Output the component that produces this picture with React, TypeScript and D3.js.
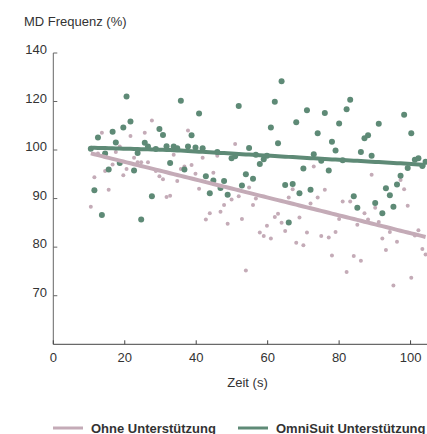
import React from 'react';
import * as d3 from 'd3';

const WIDTH = 427;
const HEIGHT = 434;

const COLOR_OHNE = '#c4abb7';
const COLOR_OMNI = '#5e8a76';
const TEXT = '#333';

// Zeitpunkte (s), gemeinsam für beide Serien
const times = [
  10.5, 11.5, 12.5, 13.6, 14.5, 15.5, 16.6, 17.5, 18.6, 19.6,
  20.5, 21.6, 22.6, 23.6, 24.6, 25.6, 26.5, 27.6, 28.7, 29.7,
  30.7, 31.7, 32.7, 33.7, 34.7, 35.7, 36.7, 37.7, 38.7, 39.8,
  40.8, 41.8, 42.7, 43.8, 44.8, 45.9, 46.8, 47.8, 48.8, 49.9,
  50.9, 51.9, 52.8, 53.9, 54.8, 55.9, 56.7, 57.8, 58.9, 59.8,
  60.9, 62.0, 62.9, 63.9, 64.9, 65.9, 67.0, 68.0, 68.9, 70.0,
  71.0, 72.0, 72.9, 74.0, 75.0, 76.0, 77.1, 78.0, 79.0, 80.0,
  81.0, 82.1, 83.1, 84.1, 85.1, 86.1, 87.1, 88.1, 89.1, 90.1,
  91.1, 92.1, 93.1, 94.2, 95.2, 96.2, 97.2, 98.2, 99.2, 100.2,
  101.2, 102.2, 103.3, 104.2,
];

// MD Frequenz (%) ohne Unterstützung
const ohneValues = [
  88.3, 94.4, 99.3, 107.1, 95.7, 91.8, 97.0, 99.6, 101.4, 94.8,
  96.1, 105.8, 98.4, 97.5, 97.5, 107.1, 97.5, 112.2, 95.7, 94.6,
  94.0, 90.3, 90.6, 99.0, 93.6, 96.1, 96.6, 108.0, 96.9, 95.1,
  92.0, 98.4, 85.7, 87.0, 95.3, 98.8, 87.3, 88.7, 84.8, 89.8,
  102.5, 90.5, 85.8, 75.2, 92.3, 88.7, 90.0, 83.0, 82.3, 84.4,
  81.8, 86.2, 86.9, 85.0, 83.3, 90.2, 91.9, 80.9, 86.1, 80.4,
  83.0, 89.0, 96.6, 90.2, 82.3, 91.8, 82.0, 78.3, 83.1, 85.8,
  89.4, 74.9, 89.4, 78.2, 84.6, 77.2, 87.0, 85.7, 94.9, 88.1,
  85.2, 81.8, 79.4, 83.1, 72.1, 81.1, 93.8, 91.9, 88.5, 73.7,
  82.4, 83.5, 79.6, 78.5,
];

// MD Frequenz (%) mit OmniSuit Unterstützung
const omniValues = [
  100.5, 91.7, 105.2, 86.6, 99.3, 96.0, 107.5, 103.1, 97.3, 109.3,
  122.1, 111.8, 95.8, 99.4, 85.7, 103.0, 101.4, 90.5, 100.4, 108.7,
  106.2, 101.5, 97.3, 101.4, 100.7, 120.3, 96.0, 101.4, 106.1, 101.0,
  115.1, 100.7, 94.6, 91.1, 93.7, 99.6, 92.2, 93.6, 90.8, 98.3,
  98.7, 118.1, 92.7, 95.0, 100.8, 94.1, 99.0, 97.1, 98.1, 98.8,
  109.3, 119.9, 102.8, 128.3, 92.8, 85.1, 93.0, 111.4, 91.1, 96.2,
  116.4, 91.8, 99.1, 106.9, 97.8, 115.3, 95.8, 103.4, 99.9, 110.9,
  97.9, 116.8, 120.7, 90.5, 88.1, 99.6, 104.8, 106.1, 98.8, 89.1,
  110.8, 87.0, 92.1, 90.7, 88.3, 92.9, 94.7, 114.5, 96.3, 106.9,
  98.0, 98.3, 96.7, 97.6,
];

// lineare Trends (Werte am Anfang und Ende)
const ohneTrend = [99.3, 82.1];
const omniTrend = [100.95, 96.95];

const xTicks = [0, 20, 40, 60, 80, 100];
const yTicks = [70, 80, 90, 100, 120, 140];

const legendItems = [
  { label: 'Ohne Unterstützung', color: COLOR_OHNE, x: 53 },
  { label: 'OmniSuit Unterstützung', color: COLOR_OMNI, x: 238 },
];

const x = d3.scaleLinear().domain([0, 104.6]).range([53.3, WIDTH]);
// oberhalb von 100 % gestauchte Achse
const y = d3.scaleLinear().domain([60, 100, 140]).range([344.3, 150, 53]);

const line = d3
  .line<[number, number]>()
  .x(d => x(d[0]))
  .y(d => y(d[1]));

const trendPath = (trend: number[]) => {
  const t0 = times[0];
  const t1 = times[times.length - 1];
  const pts = times.map(t => [t, trend[0] + ((trend[1] - trend[0]) * (t - t0)) / (t1 - t0)] as [number, number]);
  return line(pts) || '';
};

const font = '"Liberation Sans", Arial, Helvetica, sans-serif';

const App = () => {
  const x0 = x.range()[0];
  const yBottom = y(60);
  return (
    <div style={{ position: 'absolute', left: 0, top: 0 }}>
      <svg width={WIDTH} height={HEIGHT} style={{ display: 'block', fontFamily: font }}>
        <rect width={WIDTH} height={HEIGHT} fill="#fff" />
        <text x={24} y={21} fontSize={13} fill={TEXT} dominantBaseline="central">
          MD Frequenz (%)
        </text>

        {/* y-Achse */}
        <line x1={x0} x2={x0} y1={y(140)} y2={yBottom} stroke="#666" />
        {yTicks.map(v => (
          <g key={v}>
            <line x1={x0} x2={x0 + 4} y1={y(v)} y2={y(v)} stroke="#666" />
            <text x={47} y={y(v) - 3.5} fontSize={13} fill={TEXT} textAnchor="end" dominantBaseline="central">
              {v}
            </text>
          </g>
        ))}

        {/* x-Achse */}
        <line x1={x0} x2={WIDTH} y1={yBottom} y2={yBottom} stroke="#444" />
        {xTicks.map(v => (
          <g key={v}>
            <line x1={x(v)} x2={x(v)} y1={yBottom} y2={yBottom - 4} stroke="#444" />
            <text x={x(v)} y={357} fontSize={13} fill={TEXT} textAnchor="middle" dominantBaseline="central">
              {v}
            </text>
          </g>
        ))}
        <text x={247.5} y={382} fontSize={13} fill={TEXT} textAnchor="middle" dominantBaseline="central">
          Zeit (s)
        </text>

        {/* Punkte */}
        {ohneValues.map((v, i) => (
          <circle key={`o${i}`} cx={x(times[i])} cy={y(v)} r={2} fill={COLOR_OHNE} />
        ))}
        {omniValues.map((v, i) => (
          <circle key={`m${i}`} cx={x(times[i])} cy={y(v)} r={3} fill={COLOR_OMNI} />
        ))}

        {/* Trendlinien */}
        <path d={trendPath(ohneTrend)} fill="none" stroke={COLOR_OHNE} strokeWidth={4} />
        <path d={trendPath(omniTrend)} fill="none" stroke={COLOR_OMNI} strokeWidth={4} />

        {/* Legende */}
        {legendItems.map(item => (
          <g key={item.label}>
            <line x1={item.x} x2={item.x + 30} y1={428} y2={428} stroke={item.color} strokeWidth={3} />
            <text x={item.x + 38} y={428} fontSize={13} fontWeight="bold" fill={TEXT} dominantBaseline="central">
              {item.label}
            </text>
          </g>
        ))}
      </svg>
    </div>
  );
};

export default App;
